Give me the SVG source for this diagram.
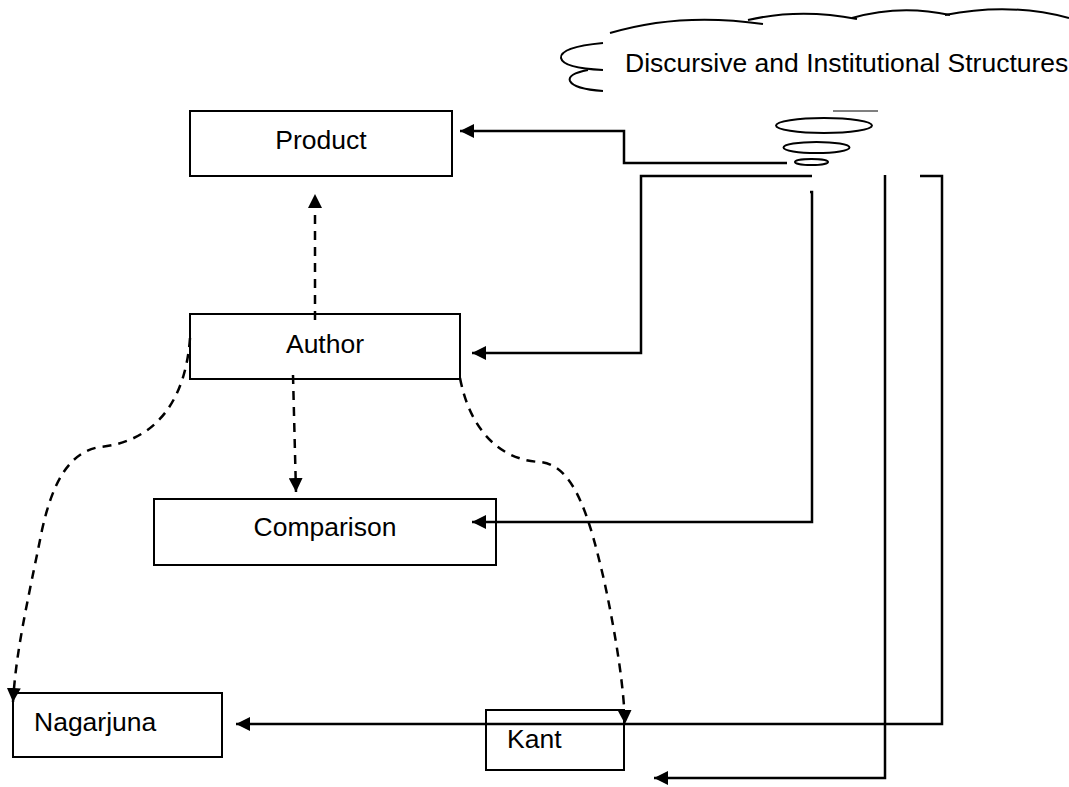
<svg xmlns="http://www.w3.org/2000/svg" width="1069" height="787" viewBox="0 0 1069 787">
<style>
.box{fill:#fff;stroke:#000;stroke-width:2}
.lbl{font-family:"Liberation Sans",Arial,sans-serif;font-size:26.5px;fill:#000}
.ln{fill:none;stroke:#000;stroke-width:2.5}
.dash{fill:none;stroke:#000;stroke-width:2.5;stroke-dasharray:9 7}
.cl{fill:none;stroke:#000;stroke-width:2}
</style>
<defs>
<marker id="ah" markerUnits="userSpaceOnUse" markerWidth="16" markerHeight="14" refX="14" refY="7" orient="auto">
<path d="M0,0 L14,7 L0,14 Z" fill="#000"/>
</marker>
</defs>
<rect width="1069" height="787" fill="#fff"/>
<g id="cloud">
<path class="cl" d="M610,33 Q680,12 763,24"/>
<path class="cl" d="M748,20 Q800,8 857,19"/>
<path class="cl" d="M852,18 Q900,4 950,15"/>
<path class="cl" d="M945,15 Q1010,2 1069,18"/>
<path class="cl" d="M603,43 Q560,47 561,58 Q563,68 603,70"/>
<path class="cl" d="M588,70 Q567,74 570,81 Q574,89 603,91"/>
<line x1="833" y1="111" x2="878" y2="111" stroke="#000" stroke-width="1"/>
<ellipse class="cl" cx="824" cy="125.5" rx="48" ry="7.5"/>
<ellipse class="cl" cx="816.5" cy="147.5" rx="33" ry="5.5"/>
<ellipse class="cl" cx="811.5" cy="162" rx="16.5" ry="3"/>
<text class="lbl" x="625" y="72">Discursive and Institutional Structures</text>
</g>
<g id="product">
<rect class="box" x="190" y="111" width="262" height="65"/>
<text class="lbl" x="321" y="149" text-anchor="middle">Product</text>
</g>
<g id="author">
<rect class="box" x="190" y="314" width="270" height="65"/>
<text class="lbl" x="325" y="353" text-anchor="middle">Author</text>
</g>
<g id="comparison">
<rect class="box" x="154" y="499" width="342" height="66"/>
<text class="lbl" x="325" y="536" text-anchor="middle">Comparison</text>
</g>
<g id="nagarjuna">
<rect class="box" x="13" y="693" width="209" height="64"/>
<text class="lbl" x="34" y="731">Nagarjuna</text>
</g>
<g id="kant">
<rect class="box" x="486" y="710" width="138" height="60"/>
<text class="lbl" x="507" y="748">Kant</text>
</g>
<g id="connectors">
<path class="ln" d="M787,163 L624,163 L624,131 L460,131" marker-end="url(#ah)"/>
<path class="ln" d="M812,176 L641,176 L641,353 L472,353" marker-end="url(#ah)"/>
<path class="ln" d="M810,192 L812,192 L812,522 L472,522" marker-end="url(#ah)"/>
<path class="ln" d="M885,175 L885,778 L654,778" marker-end="url(#ah)"/>
<path class="ln" d="M920,176 L942,176 L942,724 L236,724" marker-end="url(#ah)"/>
<path class="dash" d="M315,320 L315,194" marker-end="url(#ah)"/>
<path class="dash" d="M293,375 L296,492" marker-end="url(#ah)"/>
<path class="dash" d="M190,338 C186,395 160,441 100,447 C68,452 52,485 42,530 C28,600 16,650 13,702" marker-end="url(#ah)"/>
<path class="dash" d="M460,378 C470,430 500,460 540,462 C575,465 590,520 604,580 C617,640 624,690 625,724" marker-end="url(#ah)"/>
</g>
</svg>
